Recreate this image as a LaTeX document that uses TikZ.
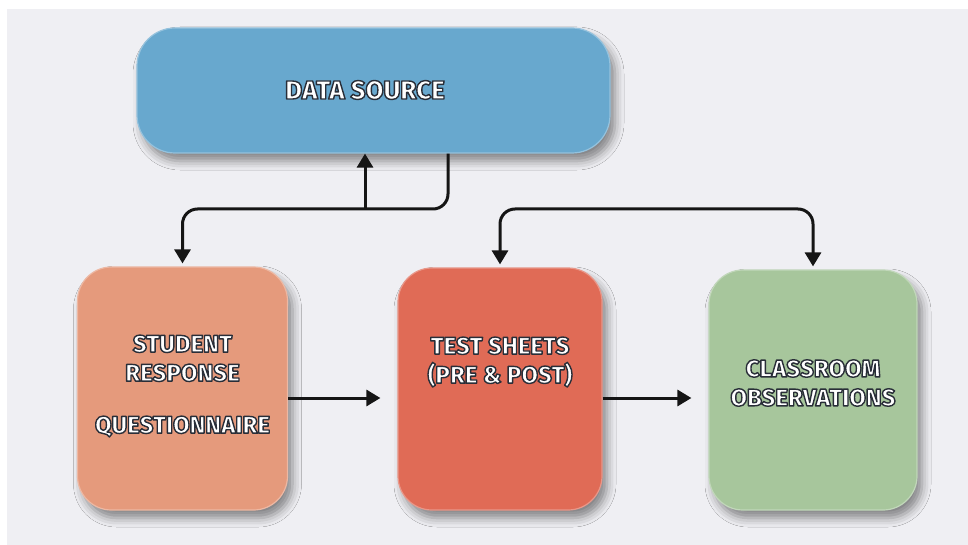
\documentclass[tikz,border=0pt]{standalone}
\usepackage{fontspec}
\setmainfont{Fira Sans}[BoldFont={Fira Sans ExtraBold}]
\usetikzlibrary{arrows.meta,shadows.blur}
\definecolor{bgc}{HTML}{EFEFF3}
\definecolor{dsblue}{HTML}{68A8CE}
\definecolor{salmon}{HTML}{E59A7C}
\definecolor{redbox}{HTML}{E06B56}
\definecolor{greenbox}{HTML}{A7C69C}
\definecolor{lineblk}{HTML}{151515}
\newcommand\outl[1]{\special{pdf:literal direct 2 Tr 0.16 0.18 0.22 RG 1.4 w 1 j}#1\special{pdf:literal direct 0 Tr}}
\tikzset{
  boxnode/.style={rectangle, draw=#1!70!white, line width=1.2pt, fill=#1,
    blur shadow={shadow xshift=5pt, shadow yshift=-8pt, shadow blur radius=9pt, shadow opacity=45}},
  lbl/.style={text=white, align=center, font=\bfseries\fontsize{24}{29}\selectfont},
  conn/.style={draw=lineblk, line width=3pt, rounded corners=15pt},
  tip/.style={-{Triangle[width=16pt,length=14pt]}}
}
\begin{document}
\begin{tikzpicture}[x=1pt,y=-1pt]
\useasboundingbox (0,0) rectangle (968,545);
\fill[bgc] (7,9) rectangle (968,545);
% boxes
\node[boxnode=dsblue, minimum width=473pt, minimum height=125pt, rounded corners=38pt] (ds) at (373.5,90.5) {};
\node[boxnode=salmon, minimum width=210pt, minimum height=243pt, rounded corners=34pt] (st) at (182.5,388.5) {};
\node[boxnode=redbox, minimum width=204pt, minimum height=242pt, rounded corners=34pt] (ts) at (500,389) {};
\node[boxnode=greenbox, minimum width=208pt, minimum height=240pt, rounded corners=34pt] (co) at (813,390) {};
% labels
\node[lbl, font=\bfseries\fontsize{26}{29}\selectfont] (dsT) at (365,90) {\outl{DATA SOURCE}};
\node[lbl] (stT) at (182.5,386) {\outl{STUDENT}\\\outl{RESPONSE}\\[23pt]\outl{QUESTIONNAIRE}};
\node[lbl] (tsT) at (500,362) {\outl{TEST SHEETS}\\\outl{(PRE \& POST)}};
\node[lbl] (coT) at (813,383) {\outl{CLASSROOM}\\\outl{OBSERVATIONS}};
% junction coordinates
\coordinate (j1) at (448,209);
\coordinate (j0) at (365,209);
\coordinate (j2) at (500,209);
\coordinate (ha) at (0,398);
% connectors
\draw[conn, tip, shorten >=3pt] (ds.south -| j1) -- (j1) -| (st.north);
\draw[conn, tip, rounded corners=0pt] (j0) -- (ds.south -| j0);
\draw[conn, {Triangle[width=16pt,length=14pt]}-{Triangle[width=16pt,length=14pt]}, shorten <=3pt, shorten >=3pt] (ts.north) |- (j2 -| co.north) -- (co.north);
\draw[conn, tip, shorten >=17pt] (st.east |- ha) -- (ts.west |- ha);
\draw[conn, tip, shorten >=17pt] (ts.east |- ha) -- (co.west |- ha);
\end{tikzpicture}
\end{document}
